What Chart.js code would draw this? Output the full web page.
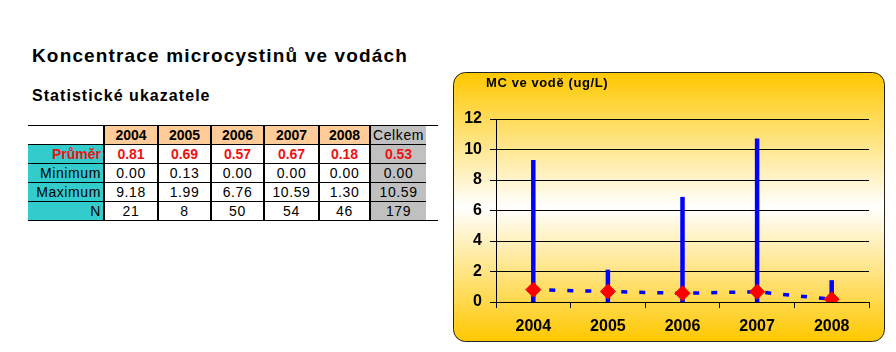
<!DOCTYPE html>
<html>
<head>
<meta charset="utf-8">
<script src="https://cdn.jsdelivr.net/npm/chart.js@4/dist/chart.umd.min.js"></script>
<style>
  body { margin: 0; background: #fff; width: 896px; height: 352px; position: relative; overflow: hidden;
         font-family: Arial, "Liberation Sans", sans-serif; }
  #nadpis { position: absolute; left: 32px; top: 45.6px; font-size: 19px; line-height: 19px; font-weight: bold; letter-spacing: 1.15px; }
  #podnadpis { position: absolute; left: 32px; top: 88.2px; font-size: 16px; line-height: 16px; font-weight: bold; letter-spacing: 1.05px; }
  #tabulka { position: absolute; left: 28px; top: 125px; border-collapse: collapse; table-layout: fixed; font-size: 14px; }
  #tabulka td { height: 18px; padding: 0 2px; text-align: center; border-top: 1px solid #000; border-bottom: 1px solid #000;
                border-left: 2px solid #000; border-right: 2px solid #000; letter-spacing: 0.6px; white-space: nowrap; overflow: hidden; }
  #tabulka td.popis { text-align: right; background: #33cccc; border-left: none; }
  #tabulka td.rok { background: #ffcc99; font-weight: bold; letter-spacing: 0; }
  #tabulka td.celk { background: #c0c0c0; border-right: none; }
  #tabulka td.prazdny { border-left: none; border-right: none; border-bottom: none; }
  #tabulka td.konec { border-left: none; border-right: none; border-top: none; border-bottom: none; }
  #tabulka tr.prumer td { color: #ee1111; font-weight: bold; letter-spacing: 0; }
  #tabulka tr.posledni td.konec { border-bottom: 1px solid #000; }
  #tabulka tr.hlavicka td.konec { border-top: 1px solid #000; }
  #graf { position: absolute; left: 450px; top: 70px; }
</style>
</head>
<body>
<div id="nadpis">Koncentrace microcystinů ve vodách</div>
<div id="podnadpis">Statistické ukazatele</div>
<table id="tabulka">
  <colgroup>
    <col style="width:76px"><col style="width:54px"><col style="width:53px"><col style="width:53px">
    <col style="width:55px"><col style="width:51px"><col style="width:55px"><col style="width:12px">
  </colgroup>
  <tbody id="telo"></tbody>
</table>
<canvas id="graf" width="440" height="276"></canvas>
<script>
// data z tabulky
const roky = ['2004', '2005', '2006', '2007', '2008']
const prumer = [0.81, 0.69, 0.57, 0.67, 0.18]
const minimum = [0.00, 0.13, 0.00, 0.00, 0.00]
const maximum = [9.18, 1.99, 6.76, 10.59, 1.30]
const pocet = [21, 8, 50, 54, 46]
const celkem = [0.53, 0.00, 10.59, 179]
const radky = ['Průměr', 'Minimum', 'Maximum', 'N']

// tabulka
const telo = document.getElementById('telo')
let html = '<tr class="hlavicka"><td class="prazdny"></td>'
roky.forEach(r => { html += '<td class="rok">' + r + '</td>' })
html += '<td class="celk">Celkem</td><td class="konec"></td></tr>'
const hodnoty = [prumer, minimum, maximum, pocet]
radky.forEach((nazev, i) => {
  const trida = i === 0 ? 'prumer' : (i === radky.length - 1 ? 'posledni' : '')
  html += '<tr class="' + trida + '"><td class="popis">' + nazev + '</td>'
  hodnoty[i].forEach(v => {
    html += '<td>' + (i === 3 ? v : v.toFixed(2)) + '</td>'
  })
  html += '<td class="celk">' + (i === 3 ? celkem[i] : celkem[i].toFixed(2)) + '</td><td class="konec"></td></tr>'
})
telo.innerHTML = html

// pozadi grafu - zaobleny ramecek s prechodem
const pozadi = {
  id: 'pozadi',
  beforeDraw(chart) {
    const ctx = chart.ctx
    const x = 3.5, y = 2.5, w = 431, h = 269
    const g = ctx.createLinearGradient(0, y, 0, y + h)
    g.addColorStop(0, '#ffc800')
    g.addColorStop(0.5, '#ffffff')
    g.addColorStop(1, '#ffc800')
    ctx.save()
    ctx.beginPath()
    ctx.roundRect(x, y, w, h, 12)
    ctx.fillStyle = g
    ctx.fill()
    ctx.lineWidth = 1
    ctx.strokeStyle = '#222'
    ctx.stroke()
    ctx.fillStyle = '#000'
    ctx.font = 'bold 13px Arial, "Liberation Sans", sans-serif'
    ctx.letterSpacing = '0.6px'
    ctx.textBaseline = 'middle'
    ctx.fillText('MC ve vodě (ug/L)', 36, 13)
    ctx.restore()
  }
}

const pismo = { family: 'Arial, "Liberation Sans", sans-serif', size: 16, weight: 'bold' }

new Chart(document.getElementById('graf'), {
  type: 'bar',
  data: {
    labels: roky,
    datasets: [
      {
        type: 'line',
        data: prumer,
        borderColor: '#0000ff',
        borderWidth: 3.5,
        borderDash: [6, 12],
        borderDashOffset: 2,
        tension: 0,
        pointStyle: 'rectRot',
        pointRadius: 7.5,
        pointBackgroundColor: '#ff0000',
        pointBorderColor: '#ee0000',
        pointBorderWidth: 1,
        order: 1
      },
      {
        data: roky.map((r, i) => [minimum[i], maximum[i]]),
        backgroundColor: '#0000ff',
        barThickness: 0.5,
        inflateAmount: 2,
        order: 2
      }
    ]
  },
  options: {
    responsive: false,
    animation: false,
    layout: { padding: { top: 49, right: 21, left: 0, bottom: 0 } },
    plugins: { legend: { display: false }, tooltip: { enabled: false } },
    scales: {
      x: {
        grid: { drawOnChartArea: false, color: '#000', tickLength: 6, offset: true },
        border: { color: '#000' },
        ticks: { color: '#000', font: pismo, padding: 9 },
        afterFit(s) { s.height = 44 }
      },
      y: {
        min: 0,
        max: 12,
        ticks: { stepSize: 2, color: '#000', font: pismo, padding: 8 },
        grid: { color: '#000', tickLength: 6 },
        border: { color: '#000' },
        afterFit(s) { s.width = 46 }
      }
    }
  },
  plugins: [pozadi]
})
</script>
</body>
</html>
